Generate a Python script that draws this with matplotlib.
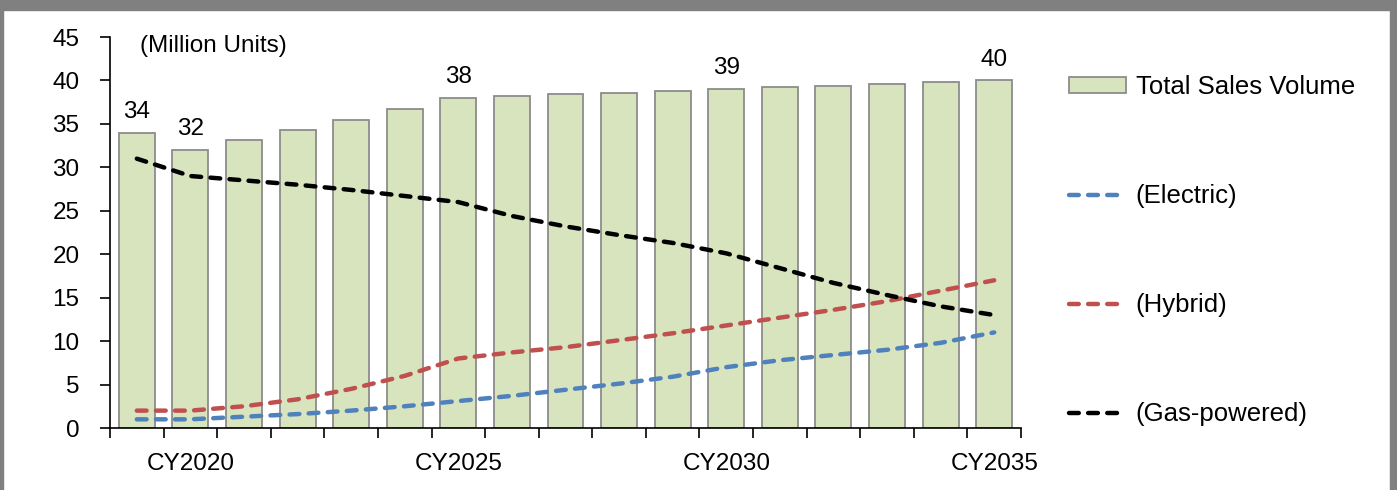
import numpy as np
import matplotlib
matplotlib.use("Agg")
from matplotlib import pyplot as plt
from matplotlib.patches import Rectangle
from matplotlib.lines import Line2D
from matplotlib.ticker import FixedLocator

plt.rcParams['font.family'] = ['Liberation Sans', 'DejaVu Sans']

# дані
years = list(range(2019, 2036))
tick_labels = ["", "CY2020", "", "", "", "", "CY2025", "", "", "", "", "CY2030", "", "", "", "", "CY2035"]
total = [34.0, 32.0, 33.1, 34.3, 35.5, 36.7, 38.0, 38.2, 38.4, 38.6, 38.8, 39.0, 39.2, 39.4, 39.6, 39.8, 40.0]
electric = [1.0, 1.0, 1.3, 1.6, 2.0, 2.5, 3.1, 3.7, 4.4, 5.1, 5.9, 7.0, 7.8, 8.4, 9.0, 9.8, 11.0]
hybrid = [2.0, 2.0, 2.5, 3.3, 4.5, 6.0, 8.0, 8.7, 9.3, 10.1, 10.9, 11.8, 12.7, 13.6, 14.6, 15.8, 17.0]
gas = [31.0, 29.0, 28.5, 28.0, 27.4, 26.7, 26.0, 24.4, 23.2, 22.2, 21.3, 20.1, 18.4, 16.7, 15.3, 14.0, 13.0]
label_idx = [0, 1, 6, 11, 16]

fs = 17.5

fig = plt.figure(figsize=(13.97, 4.9), dpi=100)
ax = fig.add_axes([110 / 1397, 1 - 428 / 490, 911 / 1397, 391 / 490])

x = np.arange(len(years))
bars = ax.bar(x, total, width=0.67, color="#D7E4BD", edgecolor="#8C8C8C", linewidth=1.3,
              label="Total Sales Volume", zorder=2)

dash = (2.2, 2.1)
lw = 3.2
ax.plot(x, electric, color="#4F81BD", lw=lw, dashes=dash, dash_capstyle="round", zorder=3)
ax.plot(x, hybrid, color="#C0504D", lw=lw, dashes=dash, dash_capstyle="round", zorder=3)
ax.plot(x, gas, color="black", lw=lw, dashes=dash, dash_capstyle="round", zorder=3)

for i in label_idx:
    ax.annotate(f"{total[i]:.0f}", (x[i], total[i]), xytext=(0, 7), textcoords="offset points",
                ha="center", va="bottom", fontsize=fs)

ax.text(0.033, 0.977, "(Million Units)", transform=ax.transAxes, ha="left", va="center", fontsize=fs)

ax.set_xlim(-0.5, len(years) - 0.5)
ax.set_ylim(0, 45)
ax.set_yticks(range(0, 46, 5))
ax.set_xticks(x)
ax.set_xticklabels(tick_labels, fontsize=fs)
ax.tick_params(axis="x", which="major", length=0, pad=18)
ax.xaxis.set_minor_locator(FixedLocator(np.arange(-0.5, len(years), 1)))
ax.tick_params(axis="x", which="minor", length=7, width=1.2, direction="out")
ax.tick_params(axis="y", length=7, width=1.2, labelsize=fs, pad=15)
for s in ["top", "right"]:
    ax.spines[s].set_visible(False)
for s in ["left", "bottom"]:
    ax.spines[s].set_linewidth(1.2)

handles = [
    Rectangle((0, 0), 1, 1, facecolor="#D7E4BD", edgecolor="#8C8C8C", linewidth=1.3),
    Line2D([], [], color="#4F81BD", lw=lw, dashes=dash, dash_capstyle="round"),
    Line2D([], [], color="#C0504D", lw=lw, dashes=dash, dash_capstyle="round"),
    Line2D([], [], color="black", lw=lw, dashes=dash, dash_capstyle="round"),
]
labels = ["Total Sales Volume", "(Electric)", "(Hybrid)", "(Gas-powered)"]
fig.legend(handles, labels, loc="upper left", bbox_to_anchor=(1069 / 1397, 1 - 75 / 490),
           frameon=False, fontsize=18.5, labelspacing=3.31, handlelength=2.2, handleheight=0.55,
           handletextpad=0.4, borderaxespad=0, borderpad=0)

# рамка
gray = "#808080"
fig.patches.append(Rectangle((0, 1 - 10 / 490), 1, 10 / 490, transform=fig.transFigure, color=gray, zorder=0))
fig.patches.append(Rectangle((0, 0), 3 / 1397, 1, transform=fig.transFigure, color=gray, zorder=0))
fig.patches.append(Rectangle((1 - 7 / 1397, 0), 7 / 1397, 1, transform=fig.transFigure, color=gray, zorder=0))

fig.savefig("out.png", dpi=100)
